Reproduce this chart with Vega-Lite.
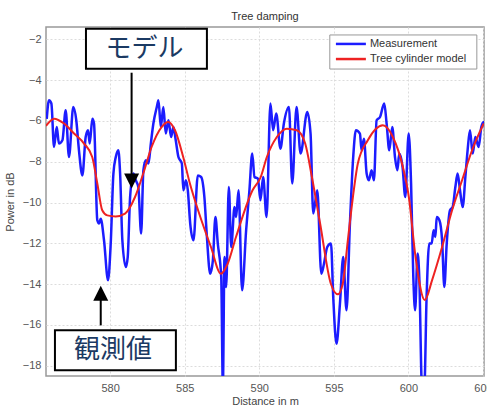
{
  "$schema": "https://vega.github.io/schema/vega-lite/v6.json",
  "autosize": {"type": "none"},
  "padding": {"left": 46, "top": 27, "right": 3, "bottom": 31},
  "width": 438,
  "height": 349,
  "background": "white",
  "title": {
    "text": "Tree damping",
    "font": "Liberation Sans",
    "fontSize": 11,
    "fontWeight": "normal",
    "color": "#333333",
    "offset": 5,
    "anchor": "middle"
  },
  "config": {
    "view": {"stroke": "#999999", "strokeWidth": 1.5},
    "axis": {
      "labelFont": "Liberation Sans",
      "labelFontSize": 11,
      "labelColor": "#555555",
      "titleFont": "Liberation Sans",
      "titleFontSize": 11,
      "titleFontWeight": "normal",
      "titleColor": "#444444",
      "domain": false,
      "ticks": false,
      "grid": true,
      "gridColor": "#dcdcdc",
      "gridDash": [2, 2],
      "labelFlush": false,
      "labelOverlap": false
    }
  },
  "datasets": {
    "measurement": [
      {"series": "Measurement", "distance": 575.75, "power": -5.9},
      {"series": "Measurement", "distance": 575.9, "power": -4.99},
      {"series": "Measurement", "distance": 576.06, "power": -5.15},
      {"series": "Measurement", "distance": 576.24, "power": -7.28},
      {"series": "Measurement", "distance": 576.42, "power": -6.3},
      {"series": "Measurement", "distance": 576.57, "power": -7.11},
      {"series": "Measurement", "distance": 576.8, "power": -6.95},
      {"series": "Measurement", "distance": 577.02, "power": -5.48},
      {"series": "Measurement", "distance": 577.24, "power": -7.77},
      {"series": "Measurement", "distance": 577.53, "power": -5.32},
      {"series": "Measurement", "distance": 577.73, "power": -5.97},
      {"series": "Measurement", "distance": 577.91, "power": -7.44},
      {"series": "Measurement", "distance": 578.14, "power": -8.67},
      {"series": "Measurement", "distance": 578.36, "power": -6.79},
      {"series": "Measurement", "distance": 578.52, "power": -6.46},
      {"series": "Measurement", "distance": 578.63, "power": -7.11},
      {"series": "Measurement", "distance": 578.81, "power": -5.89},
      {"series": "Measurement", "distance": 578.92, "power": -6.13},
      {"series": "Measurement", "distance": 579.14, "power": -10.87},
      {"series": "Measurement", "distance": 579.26, "power": -11.03},
      {"series": "Measurement", "distance": 579.37, "power": -10.79},
      {"series": "Measurement", "distance": 579.59, "power": -11.85},
      {"series": "Measurement", "distance": 579.86, "power": -13.81},
      {"series": "Measurement", "distance": 580.04, "power": -12.01},
      {"series": "Measurement", "distance": 580.22, "power": -8.58},
      {"series": "Measurement", "distance": 580.38, "power": -7.77},
      {"series": "Measurement", "distance": 580.55, "power": -7.44},
      {"series": "Measurement", "distance": 580.67, "power": -8.58},
      {"series": "Measurement", "distance": 580.82, "power": -11.85},
      {"series": "Measurement", "distance": 581.05, "power": -13.16},
      {"series": "Measurement", "distance": 581.18, "power": -12.67},
      {"series": "Measurement", "distance": 581.34, "power": -9.73},
      {"series": "Measurement", "distance": 581.56, "power": -8.58},
      {"series": "Measurement", "distance": 581.72, "power": -8.91},
      {"series": "Measurement", "distance": 581.89, "power": -9.24},
      {"series": "Measurement", "distance": 582.08, "power": -11.52},
      {"series": "Measurement", "distance": 582.23, "power": -8.42},
      {"series": "Measurement", "distance": 582.39, "power": -7.93},
      {"series": "Measurement", "distance": 582.57, "power": -8.09},
      {"series": "Measurement", "distance": 582.73, "power": -7.11},
      {"series": "Measurement", "distance": 582.9, "power": -6.13},
      {"series": "Measurement", "distance": 583.13, "power": -5.32},
      {"series": "Measurement", "distance": 583.24, "power": -4.99},
      {"series": "Measurement", "distance": 583.4, "power": -6.3},
      {"series": "Measurement", "distance": 583.57, "power": -5.32},
      {"series": "Measurement", "distance": 583.73, "power": -6.62},
      {"series": "Measurement", "distance": 583.91, "power": -5.97},
      {"series": "Measurement", "distance": 584.09, "power": -6.79},
      {"series": "Measurement", "distance": 584.24, "power": -6.3},
      {"series": "Measurement", "distance": 584.4, "power": -6.95},
      {"series": "Measurement", "distance": 584.58, "power": -7.77},
      {"series": "Measurement", "distance": 584.81, "power": -8.09},
      {"series": "Measurement", "distance": 584.91, "power": -9.4},
      {"series": "Measurement", "distance": 585.08, "power": -8.91},
      {"series": "Measurement", "distance": 585.21, "power": -9.4},
      {"series": "Measurement", "distance": 585.37, "power": -11.03},
      {"series": "Measurement", "distance": 585.59, "power": -11.85},
      {"series": "Measurement", "distance": 585.88, "power": -8.67},
      {"series": "Measurement", "distance": 586.1, "power": -8.75},
      {"series": "Measurement", "distance": 586.32, "power": -9.73},
      {"series": "Measurement", "distance": 586.49, "power": -11.69},
      {"series": "Measurement", "distance": 586.71, "power": -13.49},
      {"series": "Measurement", "distance": 586.89, "power": -12.83},
      {"series": "Measurement", "distance": 587.06, "power": -10.71},
      {"series": "Measurement", "distance": 587.22, "power": -12.01},
      {"series": "Measurement", "distance": 587.45, "power": -13.65},
      {"series": "Measurement", "distance": 587.56, "power": -19.0},
      {"series": "Measurement", "distance": 587.67, "power": -12.67},
      {"series": "Measurement", "distance": 587.78, "power": -14.14},
      {"series": "Measurement", "distance": 587.96, "power": -9.24},
      {"series": "Measurement", "distance": 588.12, "power": -12.18},
      {"series": "Measurement", "distance": 588.34, "power": -10.22},
      {"series": "Measurement", "distance": 588.45, "power": -10.71},
      {"series": "Measurement", "distance": 588.61, "power": -9.4},
      {"series": "Measurement", "distance": 588.85, "power": -14.3},
      {"series": "Measurement", "distance": 589.12, "power": -11.36},
      {"series": "Measurement", "distance": 589.34, "power": -9.4},
      {"series": "Measurement", "distance": 589.53, "power": -7.6},
      {"series": "Measurement", "distance": 589.68, "power": -8.75},
      {"series": "Measurement", "distance": 589.91, "power": -8.83},
      {"series": "Measurement", "distance": 590.08, "power": -9.89},
      {"series": "Measurement", "distance": 590.26, "power": -8.75},
      {"series": "Measurement", "distance": 590.49, "power": -10.71},
      {"series": "Measurement", "distance": 590.75, "power": -5.15},
      {"series": "Measurement", "distance": 590.93, "power": -6.46},
      {"series": "Measurement", "distance": 591.14, "power": -5.64},
      {"series": "Measurement", "distance": 591.42, "power": -7.36},
      {"series": "Measurement", "distance": 591.65, "power": -6.13},
      {"series": "Measurement", "distance": 591.99, "power": -5.32},
      {"series": "Measurement", "distance": 592.21, "power": -9.07},
      {"series": "Measurement", "distance": 592.5, "power": -5.32},
      {"series": "Measurement", "distance": 592.77, "power": -7.6},
      {"series": "Measurement", "distance": 593.22, "power": -5.56},
      {"series": "Measurement", "distance": 593.44, "power": -6.62},
      {"series": "Measurement", "distance": 593.62, "power": -10.54},
      {"series": "Measurement", "distance": 593.89, "power": -9.4},
      {"series": "Measurement", "distance": 594.16, "power": -13.49},
      {"series": "Measurement", "distance": 594.34, "power": -13.0},
      {"series": "Measurement", "distance": 594.56, "power": -12.18},
      {"series": "Measurement", "distance": 594.81, "power": -12.01},
      {"series": "Measurement", "distance": 594.96, "power": -14.63},
      {"series": "Measurement", "distance": 595.18, "power": -16.92},
      {"series": "Measurement", "distance": 595.41, "power": -14.96},
      {"series": "Measurement", "distance": 595.63, "power": -12.67},
      {"series": "Measurement", "distance": 595.85, "power": -15.28},
      {"series": "Measurement", "distance": 596.08, "power": -11.03},
      {"series": "Measurement", "distance": 596.3, "power": -7.77},
      {"series": "Measurement", "distance": 596.48, "power": -6.46},
      {"series": "Measurement", "distance": 596.75, "power": -6.62},
      {"series": "Measurement", "distance": 596.86, "power": -7.44},
      {"series": "Measurement", "distance": 597.02, "power": -6.87},
      {"series": "Measurement", "distance": 597.2, "power": -8.58},
      {"series": "Measurement", "distance": 597.35, "power": -8.91},
      {"series": "Measurement", "distance": 597.53, "power": -8.42},
      {"series": "Measurement", "distance": 597.69, "power": -8.91},
      {"series": "Measurement", "distance": 597.87, "power": -5.97},
      {"series": "Measurement", "distance": 598.1, "power": -5.81},
      {"series": "Measurement", "distance": 598.38, "power": -5.15},
      {"series": "Measurement", "distance": 598.54, "power": -6.13},
      {"series": "Measurement", "distance": 598.72, "power": -7.44},
      {"series": "Measurement", "distance": 598.92, "power": -6.3},
      {"series": "Measurement", "distance": 599.1, "power": -7.77},
      {"series": "Measurement", "distance": 599.26, "power": -8.42},
      {"series": "Measurement", "distance": 599.39, "power": -7.6},
      {"series": "Measurement", "distance": 599.61, "power": -8.26},
      {"series": "Measurement", "distance": 599.79, "power": -9.73},
      {"series": "Measurement", "distance": 600.02, "power": -6.62},
      {"series": "Measurement", "distance": 600.18, "power": -9.07},
      {"series": "Measurement", "distance": 600.33, "power": -13.65},
      {"series": "Measurement", "distance": 600.45, "power": -15.28},
      {"series": "Measurement", "distance": 600.62, "power": -12.5},
      {"series": "Measurement", "distance": 600.73, "power": -13.65},
      {"series": "Measurement", "distance": 600.91, "power": -19.0},
      {"series": "Measurement", "distance": 601.07, "power": -19.0},
      {"series": "Measurement", "distance": 601.22, "power": -14.63},
      {"series": "Measurement", "distance": 601.4, "power": -12.01},
      {"series": "Measurement", "distance": 601.56, "power": -12.01},
      {"series": "Measurement", "distance": 601.69, "power": -11.36},
      {"series": "Measurement", "distance": 601.81, "power": -11.69},
      {"series": "Measurement", "distance": 601.9, "power": -10.71},
      {"series": "Measurement", "distance": 602.08, "power": -10.87},
      {"series": "Measurement", "distance": 602.26, "power": -11.85},
      {"series": "Measurement", "distance": 602.41, "power": -14.14},
      {"series": "Measurement", "distance": 602.57, "power": -12.01},
      {"series": "Measurement", "distance": 602.79, "power": -10.38},
      {"series": "Measurement", "distance": 602.97, "power": -10.22},
      {"series": "Measurement", "distance": 603.15, "power": -9.24},
      {"series": "Measurement", "distance": 603.3, "power": -8.58},
      {"series": "Measurement", "distance": 603.46, "power": -9.4},
      {"series": "Measurement", "distance": 603.64, "power": -10.22},
      {"series": "Measurement", "distance": 603.82, "power": -8.75},
      {"series": "Measurement", "distance": 603.97, "power": -7.44},
      {"series": "Measurement", "distance": 604.13, "power": -6.46},
      {"series": "Measurement", "distance": 604.31, "power": -7.6},
      {"series": "Measurement", "distance": 604.49, "power": -6.79},
      {"series": "Measurement", "distance": 604.71, "power": -7.28},
      {"series": "Measurement", "distance": 604.89, "power": -6.3},
      {"series": "Measurement", "distance": 605.05, "power": -6.05},
      {"series": "Measurement", "distance": 605.19, "power": -6.62}
    ],
    "model": [
      {"series": "Tree cylinder model", "distance": 575.7, "power": -6.25},
      {"series": "Tree cylinder model", "distance": 576.24, "power": -5.89},
      {"series": "Tree cylinder model", "distance": 576.91, "power": -6.13},
      {"series": "Tree cylinder model", "distance": 577.58, "power": -6.62},
      {"series": "Tree cylinder model", "distance": 578.25, "power": -7.11},
      {"series": "Tree cylinder model", "distance": 578.8, "power": -7.77},
      {"series": "Tree cylinder model", "distance": 579.14, "power": -9.07},
      {"series": "Tree cylinder model", "distance": 579.47, "power": -10.38},
      {"series": "Tree cylinder model", "distance": 579.81, "power": -10.63},
      {"series": "Tree cylinder model", "distance": 580.37, "power": -10.68},
      {"series": "Tree cylinder model", "distance": 581.0, "power": -10.54},
      {"series": "Tree cylinder model", "distance": 581.67, "power": -9.73},
      {"series": "Tree cylinder model", "distance": 582.22, "power": -8.58},
      {"series": "Tree cylinder model", "distance": 582.78, "power": -7.28},
      {"series": "Tree cylinder model", "distance": 583.45, "power": -6.3},
      {"series": "Tree cylinder model", "distance": 583.9, "power": -6.05},
      {"series": "Tree cylinder model", "distance": 584.35, "power": -6.46},
      {"series": "Tree cylinder model", "distance": 584.9, "power": -7.77},
      {"series": "Tree cylinder model", "distance": 585.35, "power": -9.07},
      {"series": "Tree cylinder model", "distance": 585.97, "power": -10.54},
      {"series": "Tree cylinder model", "distance": 586.76, "power": -12.18},
      {"series": "Tree cylinder model", "distance": 587.43, "power": -13.49},
      {"series": "Tree cylinder model", "distance": 587.88, "power": -13.0},
      {"series": "Tree cylinder model", "distance": 588.44, "power": -11.69},
      {"series": "Tree cylinder model", "distance": 589.55, "power": -9.4},
      {"series": "Tree cylinder model", "distance": 590.1, "power": -8.75},
      {"series": "Tree cylinder model", "distance": 590.51, "power": -7.77},
      {"series": "Tree cylinder model", "distance": 591.18, "power": -6.79},
      {"series": "Tree cylinder model", "distance": 591.85, "power": -6.38},
      {"series": "Tree cylinder model", "distance": 592.52, "power": -6.46},
      {"series": "Tree cylinder model", "distance": 593.08, "power": -7.11},
      {"series": "Tree cylinder model", "distance": 593.53, "power": -8.75},
      {"series": "Tree cylinder model", "distance": 594.08, "power": -11.03},
      {"series": "Tree cylinder model", "distance": 594.8, "power": -13.98},
      {"series": "Tree cylinder model", "distance": 595.27, "power": -14.5},
      {"series": "Tree cylinder model", "distance": 595.6, "power": -13.98},
      {"series": "Tree cylinder model", "distance": 595.94, "power": -11.85},
      {"series": "Tree cylinder model", "distance": 596.28, "power": -9.73},
      {"series": "Tree cylinder model", "distance": 596.61, "power": -8.09},
      {"series": "Tree cylinder model", "distance": 597.28, "power": -6.95},
      {"series": "Tree cylinder model", "distance": 598.29, "power": -6.22},
      {"series": "Tree cylinder model", "distance": 598.96, "power": -6.79},
      {"series": "Tree cylinder model", "distance": 599.63, "power": -8.26},
      {"series": "Tree cylinder model", "distance": 600.03, "power": -9.73},
      {"series": "Tree cylinder model", "distance": 600.48, "power": -12.67},
      {"series": "Tree cylinder model", "distance": 601.1, "power": -14.78},
      {"series": "Tree cylinder model", "distance": 601.59, "power": -13.8},
      {"series": "Tree cylinder model", "distance": 602.26, "power": -12.18},
      {"series": "Tree cylinder model", "distance": 602.93, "power": -10.38},
      {"series": "Tree cylinder model", "distance": 603.6, "power": -8.91},
      {"series": "Tree cylinder model", "distance": 604.27, "power": -7.44},
      {"series": "Tree cylinder model", "distance": 605.05, "power": -6.13}
    ],
    "legendBox": [
      {"left": 594.73, "right": 604.59, "top": -1.79, "bottom": -3.46}
    ],
    "legendEntries": [
      {"series": "Measurement", "from": 595.14, "to": 597.15, "text": 597.42, "level": -2.23},
      {"series": "Tree cylinder model", "from": 595.14, "to": 597.15, "text": 597.42, "level": -2.97}
    ],
    "arrows": [
      {"note": "モデル", "distance": 581.44, "top": -3.64, "bottom": -8.71, "head": -8.95, "dir": "down"},
      {"note": "観測値", "distance": 579.37, "top": -14.6, "bottom": -16.02, "head": -14.45, "dir": "up"}
    ],
    "notes": [
      {"note": "モデル", "left": 578.38, "right": 586.49, "top": -1.48, "bottom": -3.44, "cx": 582.3, "cy": -2.5},
      {"note": "観測値", "left": 576.3, "right": 584.41, "top": -16.26, "bottom": -18.22, "cx": 580.2, "cy": -17.25}
    ]
  },
  "layer": [
    {
      "data": {"name": "measurement"},
      "mark": {"type": "line", "strokeWidth": 2.5, "interpolate": "monotone", "clip": true, "strokeJoin": "round"},
      "encoding": {
        "x": {
          "field": "distance", "type": "quantitative", "title": "Distance in m",
          "scale": {"domain": [575.7, 605.07], "zero": false, "nice": false},
          "axis": {"values": [580, 585, 590, 595, 600, 605], "labelPadding": 6, "titlePadding": 2}
        },
        "y": {
          "field": "power", "type": "quantitative", "title": "Power in dB",
          "scale": {"domain": [-18.5, -1.4], "zero": false, "nice": false},
          "axis": {"values": [-18, -16, -14, -12, -10, -8, -6, -4, -2], "labelPadding": 5, "titlePadding": 7}
        },
        "color": {
          "field": "series", "type": "nominal", "legend": null,
          "scale": {"domain": ["Measurement", "Tree cylinder model"], "range": ["#1c1cff", "#ee2222"]}
        }
      }
    },
    {
      "data": {"name": "model"},
      "mark": {"type": "line", "strokeWidth": 2, "interpolate": "monotone", "clip": true},
      "encoding": {
        "x": {"field": "distance", "type": "quantitative", "title": "Distance in m"},
        "y": {"field": "power", "type": "quantitative", "title": "Power in dB"},
        "color": {"field": "series", "type": "nominal", "legend": null}
      }
    },
    {
      "data": {"name": "legendBox"},
      "mark": {"type": "rect", "fill": "white", "stroke": "#999999", "strokeWidth": 1},
      "encoding": {
        "x": {"field": "left", "type": "quantitative", "title": "Distance in m"},
        "x2": {"field": "right"},
        "y": {"field": "top", "type": "quantitative", "title": "Power in dB"},
        "y2": {"field": "bottom"}
      }
    },
    {
      "data": {"name": "legendEntries"},
      "mark": {"type": "rule", "strokeWidth": 2.5},
      "encoding": {
        "x": {"field": "from", "type": "quantitative", "title": "Distance in m"},
        "x2": {"field": "to"},
        "y": {"field": "level", "type": "quantitative", "title": "Power in dB"},
        "color": {"field": "series", "type": "nominal", "legend": null}
      }
    },
    {
      "data": {"name": "legendEntries"},
      "mark": {"type": "text", "font": "Liberation Sans", "fontSize": 11, "color": "#333333", "align": "left", "baseline": "middle"},
      "encoding": {
        "x": {"field": "text", "type": "quantitative", "title": "Distance in m"},
        "y": {"field": "level", "type": "quantitative", "title": "Power in dB"},
        "text": {"field": "series"}
      }
    },
    {
      "data": {"name": "arrows"},
      "mark": {"type": "rule", "color": "black", "strokeWidth": 2},
      "encoding": {
        "x": {"field": "distance", "type": "quantitative", "title": "Distance in m"},
        "y": {"field": "top", "type": "quantitative", "title": "Power in dB"},
        "y2": {"field": "bottom"}
      }
    },
    {
      "data": {"name": "arrows"},
      "mark": {"type": "point", "filled": true, "color": "black", "opacity": 1, "size": 225},
      "encoding": {
        "x": {"field": "distance", "type": "quantitative", "title": "Distance in m"},
        "y": {"field": "head", "type": "quantitative", "title": "Power in dB"},
        "shape": {
          "field": "dir", "type": "nominal", "legend": null,
          "scale": {"domain": ["down", "up"], "range": ["M-1,-1L1,-1L0,1Z", "M-1,1L1,1L0,-1Z"]}
        }
      }
    },
    {
      "data": {"name": "notes"},
      "mark": {"type": "rect", "fill": "white", "stroke": "black", "strokeWidth": 2},
      "encoding": {
        "x": {"field": "left", "type": "quantitative", "title": "Distance in m"},
        "x2": {"field": "right"},
        "y": {"field": "top", "type": "quantitative", "title": "Power in dB"},
        "y2": {"field": "bottom"}
      }
    },
    {
      "data": {"name": "notes"},
      "mark": {"type": "text", "font": "Noto Sans CJK JP", "fontSize": 26, "color": "#1b3a63", "align": "center", "baseline": "middle"},
      "encoding": {
        "x": {"field": "cx", "type": "quantitative", "title": "Distance in m"},
        "y": {"field": "cy", "type": "quantitative", "title": "Power in dB"},
        "text": {"field": "note"}
      }
    }
  ]
}
